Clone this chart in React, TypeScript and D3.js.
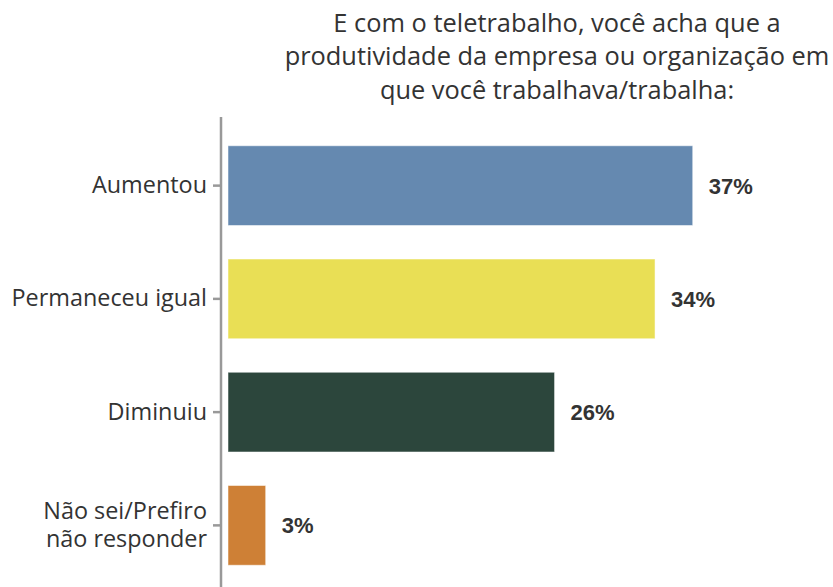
import React from "react";
import * as d3 from "d3";

const categories = ["Aumentou", "Permaneceu igual", "Diminuiu", "Não sei/Prefiro não responder"];
const categoryLines = [["Aumentou"], ["Permaneceu igual"], ["Diminuiu"], ["Não sei/Prefiro", "não responder"]];
const values = [37, 34, 26, 3];
const colors = ["#6589B0", "#E9DF55", "#2C463C", "#CE8036"];
const titleLines = [
  "E com o teletrabalho, você acha que a",
  "produtividade da empresa ou organização em",
  "que você trabalhava/trabalha:",
];

const W = 833;
const H = 587;

export default function App() {
  const x = d3.scaleLinear().domain([0, 40]).range([228, 730.4]);
  const y = d3
    .scaleBand<string>()
    .domain(categories)
    .range([129, 582])
    .paddingInner(0.296)
    .paddingOuter(0.148);
  const axisX = 221;
  const bw = y.bandwidth();

  return (
    <svg
      width={W}
      height={H}
      style={{ position: "absolute", left: 0, top: 0, background: "#fff" }}
    >
      <text
        textAnchor="middle"
        fontFamily="'Open Sans', sans-serif"
        fontSize={25.4}
        fill="#333333"
      >
        {titleLines.map((t, i) => (
          <tspan key={i} x={557} y={32 + i * 33.3}>
            {t}
          </tspan>
        ))}
      </text>
      <line x1={axisX} x2={axisX} y1={117} y2={H} stroke="#999999" strokeWidth={2.5} />
      {categories.map((c, i) => {
        const cy = (y(c) ?? 0) + bw / 2;
        const lines = categoryLines[i];
        return (
          <g key={c}>
            <line x1={213} x2={axisX} y1={cy} y2={cy} stroke="#999999" strokeWidth={2.5} />
            <rect
              x={x(0)}
              y={y(c)}
              width={x(values[i]) - x(0)}
              height={bw}
              fill={colors[i]}
              stroke="#ffffff"
              strokeOpacity={0.5}
              strokeWidth={1}
            />
            <text
              textAnchor="end"
              fontFamily="'Open Sans', sans-serif"
              fontSize={23.4}
              fill="#333333"
            >
              {lines.map((l, j) => (
                <tspan key={j} x={207} y={cy + 7.5 + (j - (lines.length - 1) / 2) * 27.7}>
                  {l}
                </tspan>
              ))}
            </text>
            <text
              x={x(values[i]) + 16}
              y={cy + 8}
              fontFamily="'Liberation Sans', Arial, sans-serif"
              fontWeight="bold"
              fontSize={22}
              fill="#333333"
            >
              {values[i]}%
            </text>
          </g>
        );
      })}
    </svg>
  );
}
